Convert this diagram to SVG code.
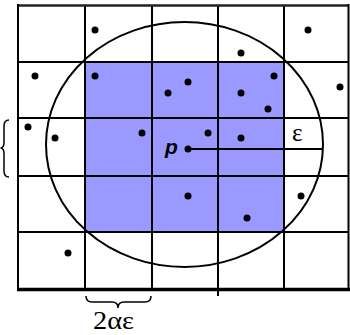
<svg xmlns="http://www.w3.org/2000/svg" width="350" height="335" viewBox="0 0 350 335">
<style>
.g{stroke:#000;stroke-width:2;fill:none}
.d{fill:#000}
.s{font-family:"Liberation Serif",serif;font-size:25px;fill:#000}
</style>
<rect width="350" height="335" fill="#fff"/>
<g id="shaded">
<rect x="85" y="62" width="199" height="170" fill="#9999ff"/>
</g>
<g id="grid" class="g">
<line x1="85" y1="5" x2="85" y2="290"/>
<line x1="152" y1="5" x2="152" y2="290"/>
<line x1="218" y1="5" x2="218" y2="296"/>
<line x1="284" y1="5" x2="284" y2="290"/>
<line x1="18" y1="62" x2="348" y2="62"/>
<line x1="18" y1="118" x2="348" y2="118"/>
<line x1="18" y1="176" x2="348" y2="176"/>
<line x1="18" y1="232" x2="348" y2="232"/>
<line x1="18" y1="5.5" x2="348.5" y2="5.5" stroke="#222" stroke-width="2.5"/>
<line x1="18" y1="4" x2="18" y2="291"/>
<line x1="348.5" y1="4" x2="348.5" y2="291"/>
<line x1="17" y1="289.5" x2="350" y2="289.5" stroke-width="3.5"/>
</g>
<g id="circle">
<ellipse cx="184.5" cy="144.5" rx="138.5" ry="122.5" fill="none" stroke="#000" stroke-width="2"/>
</g>
<g id="points" class="d">
<circle cx="95" cy="30" r="3.5"/>
<circle cx="241" cy="53" r="3.5"/>
<circle cx="308" cy="30" r="3.5"/>
<circle cx="35" cy="76" r="3.5"/>
<circle cx="95" cy="76" r="3.5"/>
<circle cx="168" cy="93" r="3.5"/>
<circle cx="188" cy="82" r="3.5"/>
<circle cx="241" cy="93" r="3.5"/>
<circle cx="274" cy="76" r="3.5"/>
<circle cx="268" cy="109" r="3.5"/>
<circle cx="340" cy="87" r="3.5"/>
<circle cx="28" cy="127" r="3.5"/>
<circle cx="55" cy="138" r="3.5"/>
<circle cx="142" cy="133" r="3.5"/>
<circle cx="208" cy="133" r="3.5"/>
<circle cx="241" cy="138" r="3.5"/>
<circle cx="188" cy="196" r="3.5"/>
<circle cx="247" cy="218" r="3.5"/>
<circle cx="301" cy="196" r="3.5"/>
<circle cx="68" cy="253" r="3.5"/>
</g>
<g id="p">
<circle cx="188" cy="149" r="3.5"/>
<line x1="188" y1="149" x2="323" y2="149" stroke="#000" stroke-width="2"/>
<text x="165" y="154" font-family="'Liberation Sans',sans-serif" font-size="21" font-weight="bold" font-style="italic">p</text>
<text x="292" y="141" class="s">ε</text>
</g>
<g id="braces" fill="none" stroke="#000" stroke-width="1.5">
<path d="M86,296 Q86,302 92,302 L112,302 Q118,302 118,308 Q118,302 124,302 L145,302 Q151,302 151,296"/>
<path d="M9,120 Q4,120 4,126 L4,142 Q4,148 0.5,148 Q4,148 4,154 L4,171 Q4,177 9,177"/>
</g>
<text x="93" y="329" class="s" textLength="41" lengthAdjust="spacingAndGlyphs">2αε</text>
</svg>
